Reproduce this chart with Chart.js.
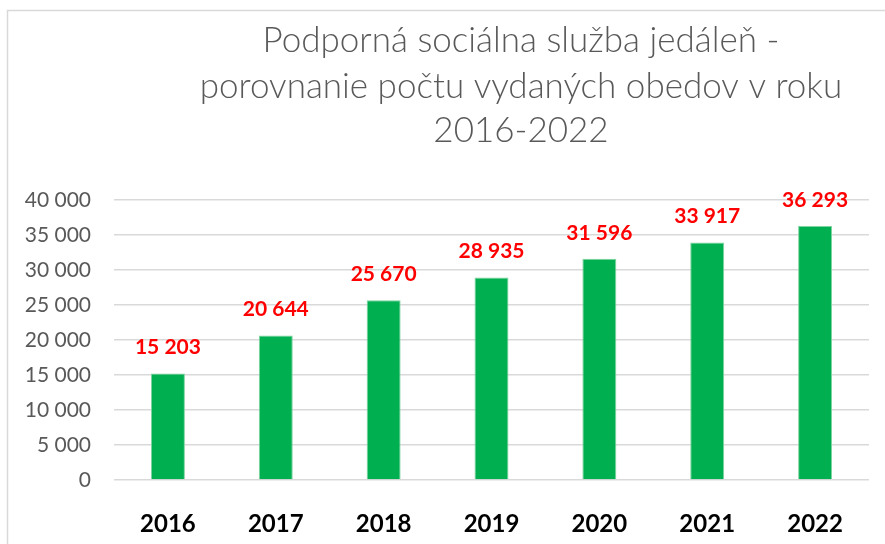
<!DOCTYPE html>
<html>
<head>
<meta charset="utf-8">
<script src="https://cdn.jsdelivr.net/npm/chart.js@4"></script>
<style>
  html, body { margin: 0; padding: 0; background: #fff; }
  #wrap { width: 885px; height: 544px; }
</style>
</head>
<body>
<div id="wrap"><canvas id="myChart" width="885" height="544"></canvas></div>
<script>
var years = ['2016', '2017', '2018', '2019', '2020', '2021', '2022'];
var obedy = [15203, 20644, 25670, 28935, 31596, 33917, 36293];
var titleLines = ['Podporná sociálna služba jedáleň -', 'porovnanie počtu vydaných obedov v roku', '2016-2022'];

function spaced(v) {
    return String(v).replace(/\B(?=(\d{3})+(?!\d))/g, ' ');
}

// frame + title drawn by hand, Excel style
var framePlugin = {
    id: 'frame',
    beforeDraw: function (chart) {
        var c = chart.ctx;
        c.save();
        c.fillStyle = '#fff';
        c.fillRect(0, 0, chart.width, chart.height);
        c.strokeStyle = '#d9d9d9';
        c.lineWidth = 1.5;
        c.strokeRect(7.5, 10.5, 1000, 1000);
        c.fillStyle = '#595959';
        c.font = '300 35px Lato, "Open Sans", sans-serif';
        c.textAlign = 'center';
        c.textBaseline = 'middle';
        var ys = [41, 87, 131];
        for (var i = 0; i < titleLines.length; i++) {
            c.fillText(titleLines[i], 521, ys[i]);
        }
        c.restore();
    }
};

var labelPlugin = {
    id: 'valueLabels',
    afterDatasetsDraw: function (chart) {
        var c = chart.ctx;
        var meta = chart.getDatasetMeta(0);
        c.save();
        c.fillStyle = '#ff0000';
        c.font = 'bold 21px Lato, "Open Sans", sans-serif';
        c.textAlign = 'center';
        c.textBaseline = 'middle';
        meta.data.forEach(function (bar, i) {
            c.fillText(spaced(obedy[i]), bar.x, bar.y - 26);
        });
        c.restore();
    }
};

function DrawChart() {
    var ctx = document.getElementById('myChart').getContext('2d');

    var myChart = new Chart(ctx, {
        type: 'bar',
        data: {
            labels: years,
            datasets: [{
                label: 'obedy',
                data: obedy,
                backgroundColor: '#00b050',
                borderColor: '#7fd3a0',
                borderWidth: 1,
                categoryPercentage: 1,
                barPercentage: 0.315
            }]
        },
        options: {
            responsive: false,
            animation: false,
            layout: {
                padding: { left: 0, right: 16, top: 200, bottom: 0 }
            },
            plugins: {
                legend: { display: false },
                tooltip: { enabled: false },
                title: { display: false }
            },
            scales: {
                x: {
                    grid: { display: false },
                    border: { display: false },
                    ticks: {
                        color: '#000',
                        font: { family: 'Lato, "Open Sans", sans-serif', size: 24, weight: 'bold' },
                        padding: 22
                    },
                    afterFit: function (s) { s.height = 64; }
                },
                y: {
                    min: 0,
                    max: 40000,
                    border: { display: false },
                    grid: { color: '#d9d9d9', lineWidth: 1.5, drawTicks: false },
                    ticks: {
                        stepSize: 5000,
                        color: '#595959',
                        font: { family: 'Lato, "Open Sans", sans-serif', size: 21 },
                        padding: 23,
                        callback: function (v) { return spaced(v); }
                    },
                    afterFit: function (s) { s.width = 114; }
                }
            }
        },
        plugins: [framePlugin, labelPlugin]
    });
}

DrawChart();
</script>
</body>
</html>
